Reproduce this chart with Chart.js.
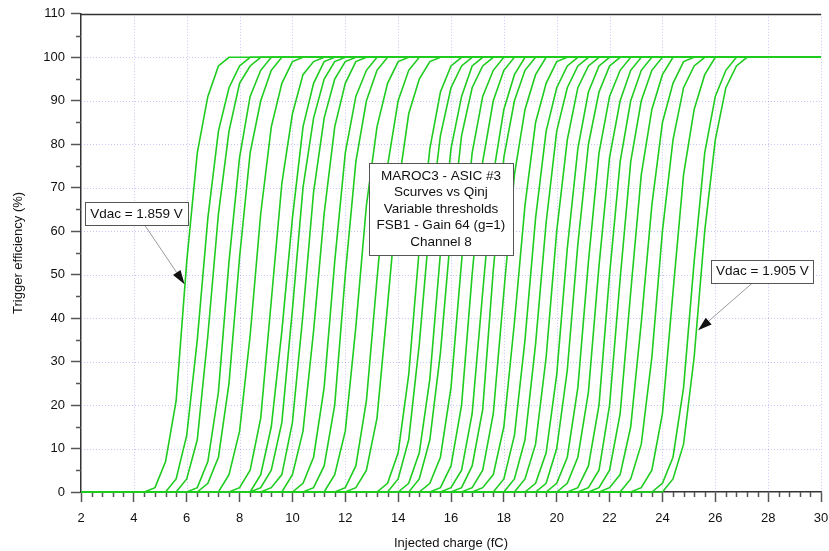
<!DOCTYPE html>
<html>
<head>
<meta charset="utf-8">
<script src="https://cdn.jsdelivr.net/npm/chart.js@4.4.1/dist/chart.umd.min.js"></script>
<style>
  html, body { margin: 0; padding: 0; background: #fff; }
  #wrap { width: 829px; height: 551px; position: relative; }
</style>
</head>
<body>
<div id="wrap"><canvas id="chart"></canvas></div>
<script>
// injected charge is stepped by 0.4 fC, curves sit at 0 % below and 100 % above
const qStep = 0.4;
const qMin = 2, qMax = 30;

// one entry per threshold (Vdac 1.859 V .. 1.905 V):
// first point of the rise (fC) and the efficiencies (%) read from there on
const riseStart = [4.8, 5.2, 5.6, 6.0, 6.4, 7.2, 8.0, 8.4, 8.8, 9.2, 9.6,
  10.0, 10.8, 11.2, 12.0, 12.4, 13.2, 13.6, 14.0, 14.4, 14.8, 15.6, 16.0,
  16.4, 16.8, 17.2, 17.6, 18.0, 18.4, 18.8, 19.2, 19.6, 20.0, 20.8, 21.2,
  21.6, 22.0, 22.4, 23.2, 23.6, 24.0];
const riseVals = [
  [1, 7, 21, 53, 78, 91, 98, 100],
  [0, 3, 13, 35, 63, 83, 93, 98],
  [0, 3, 12, 36, 64, 83, 94, 98],
  [0, 1, 7, 23, 53, 77, 91, 97],
  [0, 2, 8, 25, 54, 78, 90, 97],
  [0, 4, 14, 36, 64, 84, 94, 99],
  [1, 5, 17, 44, 71, 87, 96, 99],
  [0, 4, 15, 37, 63, 84, 94, 99],
  [1, 5, 16, 42, 70, 86, 95, 99],
  [1, 4, 16, 41, 69, 86, 95, 99],
  [0, 4, 14, 37, 64, 84, 94, 99],
  [0, 2, 8, 24, 53, 78, 91, 97],
  [1, 6, 20, 50, 76, 90, 97, 100],
  [0, 4, 14, 38, 66, 84, 94, 99],
  [1, 6, 21, 49, 75, 90, 97, 100],
  [1, 5, 17, 43, 70, 87, 95, 99],
  [0, 2, 9, 27, 56, 79, 92, 98],
  [0, 3, 12, 34, 62, 82, 93, 98],
  [0, 2, 9, 26, 55, 79, 91, 98],
  [0, 3, 12, 32, 60, 82, 93, 98],
  [0, 2, 8, 24, 53, 78, 91, 97],
  [1, 6, 20, 50, 76, 90, 97, 100],
  [1, 5, 18, 46, 73, 88, 96, 100],
  [1, 6, 19, 51, 77, 90, 97, 100],
  [1, 5, 18, 46, 73, 88, 96, 100],
  [1, 4, 15, 39, 66, 85, 94, 99],
  [0, 3, 13, 35, 63, 83, 93, 98],
  [0, 3, 12, 34, 62, 83, 93, 98],
  [0, 3, 11, 31, 60, 81, 93, 98],
  [0, 2, 9, 27, 56, 79, 92, 98],
  [0, 2, 10, 28, 57, 80, 92, 98],
  [0, 2, 8, 24, 53, 78, 91, 97],
  [0, 2, 8, 23, 52, 77, 90, 97],
  [1, 6, 20, 50, 76, 90, 97, 100],
  [1, 5, 20, 49, 76, 90, 97, 100],
  [1, 5, 18, 46, 73, 88, 96, 100],
  [1, 4, 15, 39, 66, 85, 94, 99],
  [0, 3, 11, 31, 60, 81, 93, 98],
  [1, 5, 18, 46, 73, 88, 96, 100],
  [0, 2, 8, 24, 53, 78, 91, 97],
  [0, 3, 11, 31, 60, 81, 93, 98]
];

const infoLines = ["MAROC3 - ASIC #3", "Scurves vs Qinj", "Variable thresholds",
  "FSB1 - Gain 64 (g=1)", "Channel 8"];
const vdacFirst = "Vdac = 1.859 V";
const vdacLast = "Vdac = 1.905 V";

const FONT = '"Liberation Sans", Arial, sans-serif';
const lineGreen = "#1fcc1f";

const datasets = riseStart.map((s, i) => {
  const pts = [{ x: qMin, y: 0 }, { x: +(s - qStep).toFixed(2), y: 0 }];
  riseVals[i].forEach((v, k) => pts.push({ x: +(s + k * qStep).toFixed(2), y: v }));
  pts.push({ x: +(s + riseVals[i].length * qStep).toFixed(2), y: 100 });
  pts.push({ x: qMax, y: 100 });
  return {
    data: pts,
    borderColor: lineGreen,
    borderWidth: 1.6,
    pointRadius: 0,
    tension: 0,
    clip: 4,
  };
});

function drawBox(ctx, cx, cy, lines, w, h, lh) {
  ctx.fillStyle = "#fff";
  ctx.fillRect(Math.round(cx - w / 2), Math.round(cy - h / 2), w, h);
  ctx.strokeStyle = "#555";
  ctx.lineWidth = 1;
  ctx.strokeRect(Math.round(cx - w / 2) + 0.5, Math.round(cy - h / 2) + 0.5, w, h);
  ctx.fillStyle = "#111";
  ctx.font = "13.5px " + FONT;
  ctx.textAlign = "center";
  ctx.textBaseline = "middle";
  const y0 = cy - (lines.length - 1) * lh / 2;
  lines.forEach((t, i) => ctx.fillText(t, cx, y0 + i * lh));
}

function drawArrow(ctx, x1, y1, x2, y2) {
  const ang = Math.atan2(y2 - y1, x2 - x1);
  const len = 14, wid = 4.5;
  const bx = x2 - len * Math.cos(ang), by = y2 - len * Math.sin(ang);
  ctx.strokeStyle = "#999";
  ctx.lineWidth = 1;
  ctx.beginPath();
  ctx.moveTo(x1, y1);
  ctx.lineTo(bx, by);
  ctx.stroke();
  ctx.fillStyle = "#111";
  ctx.beginPath();
  ctx.moveTo(x2, y2);
  ctx.lineTo(bx + wid * Math.sin(ang), by - wid * Math.cos(ang));
  ctx.lineTo(bx - wid * Math.sin(ang), by + wid * Math.cos(ang));
  ctx.closePath();
  ctx.fill();
}

const decor = {
  id: "decor",
  beforeDatasetsDraw(chart) {
    const { ctx, chartArea: a, scales: { x, y } } = chart;
    ctx.save();
    // dotted grid
    ctx.strokeStyle = "rgba(120,120,235,0.42)";
    ctx.lineWidth = 1;
    ctx.setLineDash([1, 2]);
    x.ticks.forEach((t) => {
      if (t.value <= qMin) return;
      const px = Math.round(x.getPixelForValue(t.value)) + 0.5;
      ctx.beginPath(); ctx.moveTo(px, a.top); ctx.lineTo(px, a.bottom); ctx.stroke();
    });
    y.ticks.forEach((t) => {
      if (t.value <= 0 || t.value >= 110) return;
      const py = Math.round(y.getPixelForValue(t.value)) + 0.5;
      ctx.beginPath(); ctx.moveTo(a.left, py); ctx.lineTo(a.right, py); ctx.stroke();
    });
    ctx.setLineDash([]);
    // minor ticks
    ctx.strokeStyle = "#555";
    ctx.lineWidth = 1.5;
    for (let k = 1; k < 70; k++) {
      if (k % 5 === 0) continue;
      const px = Math.round(x.getPixelForValue(qMin + k * qStep)) + 0.5;
      ctx.beginPath(); ctx.moveTo(px, a.bottom); ctx.lineTo(px, a.bottom + 5); ctx.stroke();
    }
    for (let v = 5; v < 110; v += 10) {
      const py = Math.round(y.getPixelForValue(v)) + 0.5;
      ctx.beginPath(); ctx.moveTo(a.left, py); ctx.lineTo(a.left - 5, py); ctx.stroke();
    }
    // top frame line
    ctx.strokeStyle = "#333";
    ctx.beginPath();
    ctx.moveTo(a.left, Math.round(a.top) + 0.5);
    ctx.lineTo(a.right, Math.round(a.top) + 0.5);
    ctx.stroke();
    ctx.restore();
  },
  afterDraw(chart) {
    const { ctx, scales: { x, y } } = chart;
    ctx.save();
    drawArrow(ctx, x.getPixelForValue(4.42), y.getPixelForValue(61.3),
      x.getPixelForValue(5.92), y.getPixelForValue(47.8));
    drawBox(ctx, x.getPixelForValue(4.10), y.getPixelForValue(63.95), [vdacFirst], 103, 23, 16);
    drawArrow(ctx, x.getPixelForValue(27.39), y.getPixelForValue(48.0),
      x.getPixelForValue(25.35), y.getPixelForValue(37.2));
    drawBox(ctx, x.getPixelForValue(27.78), y.getPixelForValue(50.75), [vdacLast], 102, 23, 16);
    drawBox(ctx, x.getPixelForValue(15.62), y.getPixelForValue(65.1), infoLines, 144, 92, 16.4);
    ctx.restore();
  },
};

new Chart(document.getElementById("chart"), {
  type: "line",
  data: { datasets: datasets },
  options: {
    responsive: true,
    maintainAspectRatio: false,
    animation: false,
    events: [],
    layout: { padding: { top: 13, right: 0, left: 0, bottom: 0 } },
    plugins: { legend: { display: false }, tooltip: { enabled: false } },
    scales: {
      x: {
        type: "linear",
        min: qMin,
        max: qMax,
        afterFit: (s) => { s.height = 59; s.paddingRight = 8; s.paddingLeft = 0; },
        ticks: { stepSize: 2, autoSkip: false, maxRotation: 0, padding: 9,
          color: "#111", font: { family: FONT, size: 13 } },
        grid: { drawOnChartArea: false, drawTicks: true, tickLength: 10,
          tickColor: "#555", tickWidth: 1.5 },
        border: { color: "#333", width: 1.5 },
        title: { display: true, text: "Injected charge (fC)", color: "#111",
          font: { family: FONT, size: 13 }, padding: { top: 3, bottom: 0 } },
      },
      y: {
        min: 0,
        max: 110,
        afterFit: (s) => { s.width = 81; },
        ticks: { stepSize: 10, padding: 6, color: "#111",
          font: { family: FONT, size: 13 } },
        grid: { drawOnChartArea: false, drawTicks: true, tickLength: 10,
          tickColor: "#555", tickWidth: 1.5 },
        border: { color: "#333", width: 1.5 },
        title: { display: true, text: "Trigger efficiency (%)", color: "#111",
          font: { family: FONT, size: 13 }, padding: { top: 11, bottom: 0 } },
      },
    },
  },
  plugins: [decor],
});
</script>
</body>
</html>
